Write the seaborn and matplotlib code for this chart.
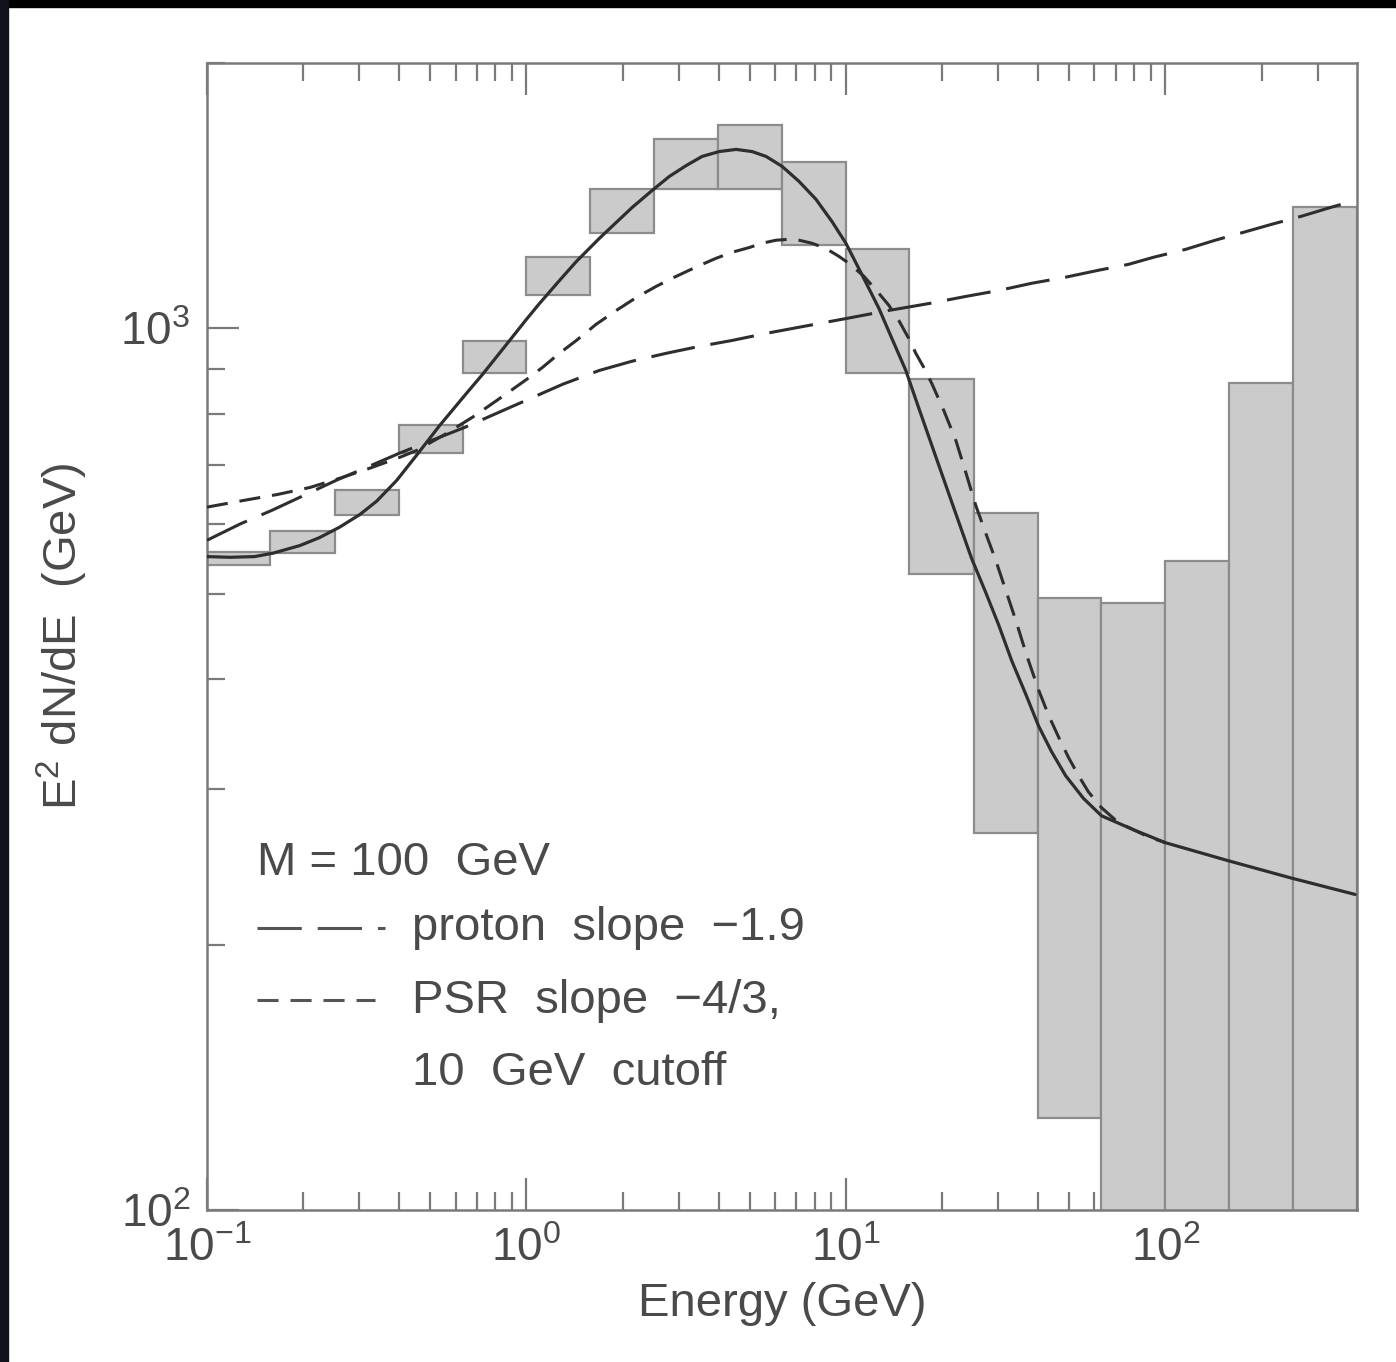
import numpy as np
import pandas as pd
import matplotlib
matplotlib.use("Agg")
import matplotlib.pyplot as plt
from matplotlib.patches import Rectangle
from matplotlib.lines import Line2D
import seaborn as sns

# histogram bins (GeV) with min / max band of E^2 dN/dE
bin_edges = [0.1, 0.158, 0.251, 0.398, 0.631, 1.0, 1.58, 2.51, 3.98, 6.31,
             10.0, 15.8, 25.1, 39.8, 63.1, 100.0, 158.0, 251.0, 398.0]
band_low = [539, 556, 614, 722, 889, 1090, 1282, 1441, 1441, 1242,
            889, 527, 268, 127, 60, 60, 60, 60]
band_high = [557, 589, 655, 778, 967, 1204, 1441, 1642, 1699, 1546,
             1232, 876, 617, 494, 488, 545, 866, 1372]

# total model (solid)
total_E = [0.1, 0.118, 0.141, 0.161, 0.195, 0.225, 0.260, 0.301, 0.340, 0.392,
           0.453, 0.535, 0.649, 0.729, 0.866, 1.0, 1.098, 1.268, 1.433, 1.691,
           1.911, 2.145, 2.476, 2.799, 3.162, 3.548, 4.010, 4.532, 5.085, 5.623,
           6.310, 7.132, 8.058, 9.044, 10.0, 11.22, 12.68, 13.93, 15.40, 16.91,
           18.57, 21.45, 24.76, 27.38, 30.07, 33.02, 36.52, 40.10, 44.04, 48.70,
           55.42, 63.10, 79.43, 100, 157.3, 247.6, 392.6]
total_F = [551, 550, 551, 556, 567, 579, 595, 615, 637, 672,
           718, 776, 844, 887, 959, 1024, 1067, 1133, 1191, 1265,
           1319, 1372, 1434, 1487, 1530, 1567, 1587, 1596, 1587, 1567,
           1527, 1468, 1401, 1322, 1249, 1151, 1054, 974, 896, 812,
           737, 635, 548, 502, 461, 420, 385, 354, 331, 311,
           293, 280, 270, 261, 249, 238, 228]

# proton slope -1.9 (long dash)
proton_E = [0.1, 0.127, 0.160, 0.202, 0.255, 0.323, 0.401, 0.508, 0.640, 0.806,
            1.0, 1.296, 1.691, 2.145, 2.738, 3.472, 4.404, 5.623, 7.132, 10.0,
            13.63, 18.17, 23.71, 30.07, 38.13, 48.70, 61.76, 76.63, 91.73, 115.5,
            143.3, 175.3, 214.5, 266.1, 330.2, 392.6]
proton_F = [575, 600, 622, 647, 673, 698, 722, 747, 772, 801,
            829, 864, 896, 918, 937, 954, 969, 987, 1003, 1026,
            1048, 1067, 1087, 1104, 1125, 1143, 1164, 1182, 1204, 1229,
            1259, 1285, 1312, 1340, 1372, 1397]

# PSR slope -4/3, 10 GeV cutoff (short dash)
psr_E = [0.1, 0.130, 0.166, 0.210, 0.260, 0.323, 0.401, 0.453, 0.555, 0.678,
         0.783, 0.885, 1.0, 1.122, 1.268, 1.433, 1.654, 1.911, 2.207, 2.548,
         2.859, 3.232, 3.548, 3.924, 4.404, 4.977, 5.463, 6.043, 6.635, 7.132,
         7.832, 8.660, 9.509, 10.22, 11.38, 12.68, 13.63, 14.64, 15.73, 16.55,
         17.53, 18.57, 20.25, 22.07, 23.71, 25.49, 27.38, 29.43, 31.62, 33.99,
         36.78, 40.10, 43.10, 46.30, 49.77, 53.47, 57.45, 63.10, 71.32, 79.43,
         88.46, 100]
psr_F = [627, 638, 648, 660, 676, 694, 714, 727, 758, 793,
         822, 848, 875, 903, 937, 969, 1011, 1048, 1084, 1116,
         1140, 1164, 1182, 1201, 1220, 1235, 1249, 1259, 1262, 1259,
         1249, 1232, 1207, 1185, 1146, 1096, 1062, 1021, 974, 937,
         903, 866, 807, 747, 687, 630, 586, 546, 505, 467,
         426, 389, 364, 344, 326, 311, 298, 286, 275, 270,
         265, 261]

sns.set_theme(style="ticks")
plt.rcParams['font.family'] = ['Liberation Sans', 'DejaVu Sans']
plt.rcParams['mathtext.default'] = 'regular'

txt_col = '#4a4a4a'
axis_col = '#7a7a7a'

fig = plt.figure(figsize=(13.96, 13.62), dpi=100)
fig.patch.set_facecolor('white')
ax = fig.add_axes([207 / 1396, 1 - 1210 / 1362, 1150 / 1396, 1147 / 1362])
ax.set_xscale('log')
ax.set_yscale('log')

# shaded bins
lefts = np.array(bin_edges[:-1])
widths = np.array(bin_edges[1:]) - lefts
lows = np.array(band_low)
highs = np.array(band_high)
ax.bar(lefts, highs - lows, width=widths, bottom=lows, align='edge',
       color='#cbcbcb', edgecolor='#8c8c8c', linewidth=1.6, zorder=1)

line_col = '#2e2e2e'
sns.lineplot(x=total_E, y=total_F, ax=ax, color=line_col, lw=2.3,
             estimator=None, sort=False, zorder=3)
sns.lineplot(x=proton_E, y=proton_F, ax=ax, color=line_col, lw=2.2,
             estimator=None, sort=False, linestyle=(0, (14.5, 5.2)), zorder=3)
sns.lineplot(x=psr_E, y=psr_F, ax=ax, color=line_col, lw=2.2,
             estimator=None, sort=False, linestyle=(0, (6.9, 3.9)), zorder=3)

ax.set_xlim(0.1, 398)
ax.set_ylim(100, 2000)
ax.set_axisbelow(True)

ax.set_xticks([0.1, 1, 10, 100])
ax.set_xticklabels([r'$10^{-1}$', r'$10^{0}$', r'$10^{1}$', r'$10^{2}$'])
ax.set_yticks([100, 1000])
ax.set_yticklabels([r'$10^{2}$', r'$10^{3}$'])

ax.tick_params(which='both', direction='in', top=True, right=False,
               color=axis_col, width=1.6, labelcolor=txt_col, labelsize=33)
ax.tick_params(which='major', length=23)
ax.tick_params(which='minor', length=13)
ax.tick_params(axis='x', which='major', pad=12)
ax.tick_params(axis='y', which='major', pad=12)

for side, sp in ax.spines.items():
    sp.set_color(axis_col)
    sp.set_linewidth(1.8)
    sp.set_visible(True)

ax.set_xlabel('Energy (GeV)', fontsize=34, color=txt_col, labelpad=8)
ax.set_ylabel(r'E$^2$ dN/dE  (GeV)', fontsize=34, color=txt_col, labelpad=22)

# key inside the plot
tr = ax.transAxes
ax.text(0.0435, 0.292, 'M = 100  GeV', transform=tr, fontsize=34,
        color=txt_col, va='baseline', ha='left')
ax.add_line(Line2D([0.0435, 0.155], [0.2459, 0.2459], transform=tr,
                   color='#555555', lw=2.2, linestyle=(0, (14.5, 5.2))))
ax.text(0.1783, 0.2354, 'proton  slope  \u22121.9', transform=tr, fontsize=34,
        color=txt_col, va='baseline', ha='left')
ax.add_line(Line2D([0.0435, 0.146], [0.1831, 0.1831], transform=tr,
                   color='#555555', lw=2.2, linestyle=(0, (6.9, 3.9))))
ax.text(0.1783, 0.1718, 'PSR  slope  \u22124/3,', transform=tr, fontsize=34,
        color=txt_col, va='baseline', ha='left')
ax.text(0.1783, 0.1090, '10  GeV  cutoff', transform=tr, fontsize=34,
        color=txt_col, va='baseline', ha='left')

# dark screen edges of the original capture
fig.patches.append(Rectangle((0, 1 - 7 / 1362), 1, 7 / 1362, transform=fig.transFigure,
                             color='black', zorder=10))
fig.patches.append(Rectangle((0, 0), 8 / 1396, 1, transform=fig.transFigure,
                             color='#12121c', zorder=10))

plt.savefig('out.png', dpi=100, facecolor='white')
